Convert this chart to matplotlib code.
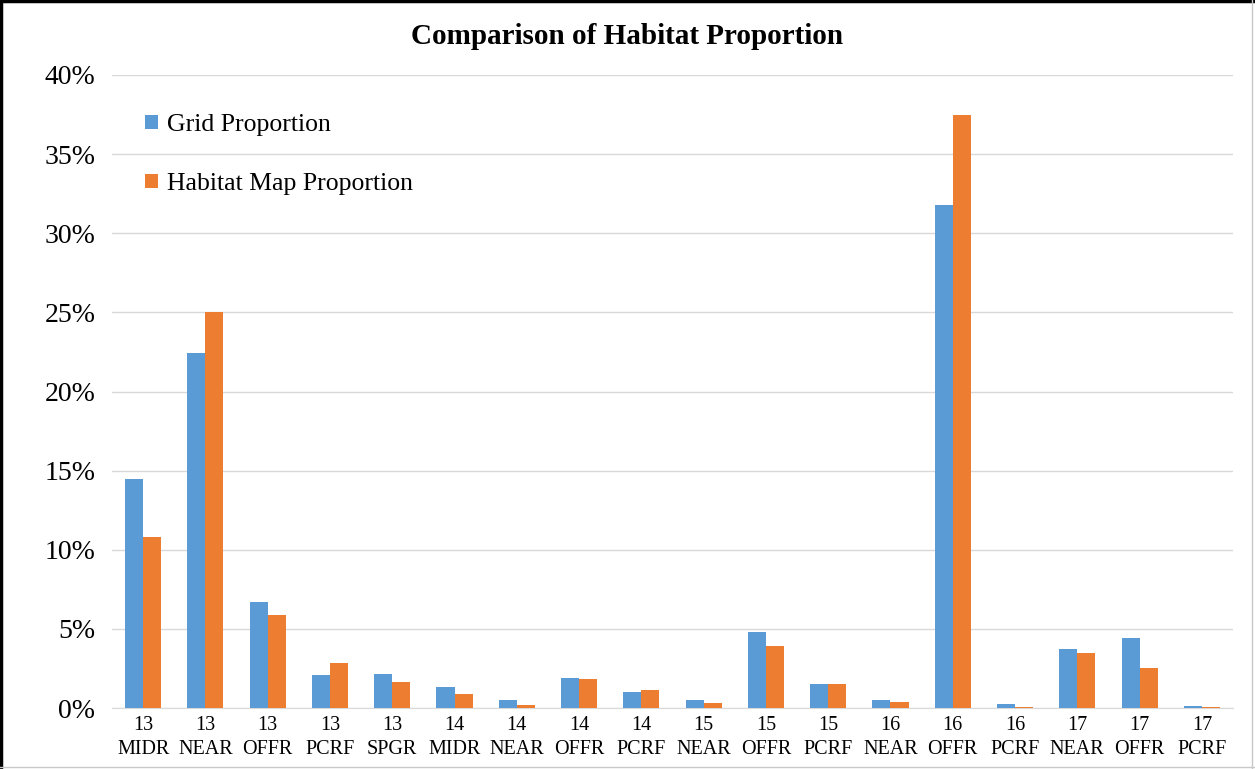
import numpy as np
import matplotlib.pyplot as plt
from matplotlib.lines import Line2D
from matplotlib.ticker import PercentFormatter

# Data (percent)
categories = ['13\nMIDR', '13\nNEAR', '13\nOFFR', '13\nPCRF', '13\nSPGR',
              '14\nMIDR', '14\nNEAR', '14\nOFFR', '14\nPCRF',
              '15\nNEAR', '15\nOFFR', '15\nPCRF',
              '16\nNEAR', '16\nOFFR', '16\nPCRF',
              '17\nNEAR', '17\nOFFR', '17\nPCRF']
grid_prop = [14.45, 22.45, 6.67, 2.07, 2.18, 1.34, 0.48, 1.89, 1.0,
             0.5, 4.82, 1.49, 0.48, 31.8, 0.23, 3.75, 4.42, 0.1]
habitat_prop = [10.8, 25.0, 5.9, 2.87, 1.63, 0.88, 0.21, 1.82, 1.15,
                0.31, 3.94, 1.49, 0.38, 37.5, 0.05, 3.5, 2.52, 0.05]

blue = '#5b9bd5'
orange = '#ed7d31'

plt.rcParams['font.family'] = ['Liberation Serif', 'DejaVu Serif']

fig = plt.figure(figsize=(12.55, 7.69), dpi=100)
ax = fig.add_axes([112 / 1255, 61 / 769, 1121 / 1255, 633 / 769])

x = np.arange(len(categories))
w = 0.29
ax.bar(x - w / 2, grid_prop, w, color=blue, label='Grid Proportion', zorder=3)
ax.bar(x + w / 2, habitat_prop, w, color=orange, label='Habitat Map Proportion', zorder=3)

ax.set_xlim(-0.5, len(categories) - 0.5)
ax.set_ylim(0, 40)
ax.set_yticks(range(0, 41, 5))
ax.yaxis.set_major_formatter(PercentFormatter(decimals=0))
ax.grid(axis='y', color='#d9d9d9', linewidth=1, zorder=0)
ax.set_xticks(x)
ax.set_xticklabels(categories, fontsize=14.5, linespacing=1.3)
ax.tick_params(axis='x', length=0, pad=6)
ax.tick_params(axis='y', length=0, labelsize=20, pad=12)
for s in ['left', 'right', 'top']:
    ax.spines[s].set_visible(False)
ax.spines['bottom'].set_color('#d9d9d9')

ax.legend(loc='upper left', bbox_to_anchor=(0.009, 0.975), frameon=False,
          fontsize=18.5, labelspacing=1.45, handlelength=0.5, handleheight=0.5,
          handletextpad=0.35)

fig.suptitle('Comparison of Habitat Proportion', y=0.97, fontsize=21,
             fontweight='bold')

# screenshot frame
fig.add_artist(Line2D([0.001, 0.001], [0, 1], color='black', linewidth=2.5,
                      transform=fig.transFigure))
fig.add_artist(Line2D([0, 1], [0.999, 0.999], color='black', linewidth=2.5,
                      transform=fig.transFigure))
fig.add_artist(Line2D([0.998, 0.998], [0, 1], color='#c8c8c8', linewidth=1,
                      transform=fig.transFigure))
fig.add_artist(Line2D([0, 1], [0.002, 0.002], color='#c8c8c8', linewidth=1,
                      transform=fig.transFigure))

fig.savefig('out.png', dpi=100)
